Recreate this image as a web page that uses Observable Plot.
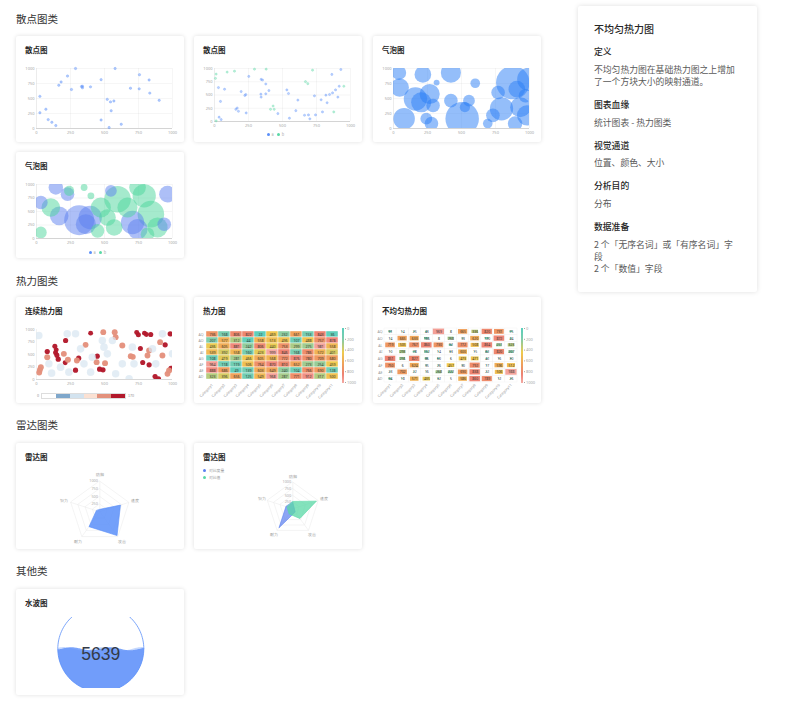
<!DOCTYPE html>
<html><head><meta charset="utf-8">
<script src="https://cdn.jsdelivr.net/npm/d3@7"></script>
<script src="https://cdn.jsdelivr.net/npm/@observablehq/plot@0.6"></script>
<style>
body{margin:0;background:#fff;font-family:"Noto Sans CJK SC","Noto Sans",sans-serif;}
#page{position:relative;width:800px;height:712px;overflow:hidden;background:#fff;}
.sec{position:absolute;left:16px;font-size:10.5px;color:#333;line-height:12px;white-space:nowrap;}
.card{position:absolute;width:168px;height:106px;background:#fff;box-shadow:0 0 4px rgba(0,0,0,0.13);border-radius:2px;}
.ct{position:absolute;left:9px;top:9px;font-size:7.5px;font-weight:600;color:#262626;line-height:10px;white-space:nowrap;}
.card svg{position:absolute;left:0;top:0;overflow:visible;}
.lg{position:absolute;font-size:3.8px;color:#aaa;line-height:5px;white-space:nowrap;display:flex;align-items:center;gap:1.5px;}
.lg i{display:inline-block;width:3px;height:3px;border-radius:50%;}
#panel{position:absolute;left:578px;top:6px;width:179px;height:286px;background:#fff;box-shadow:0 0 5px rgba(0,0,0,0.13);border-radius:2px;}
.p{position:absolute;left:16px;width:146px;white-space:normal;}
.pt{font-size:10px;color:#262626;line-height:12px;font-weight:500;}
.ph{font-size:8.8px;color:#262626;line-height:12px;font-weight:500;}
.pb{font-size:8.8px;color:#595959;line-height:12px;}
</style></head>
<body><div id="page"></div>
<script>
// ---------------- DATA ----------------
const axisTicks = [0, 250, 500, 750, 1000];

const scatter1X = [25,25,69,86,113,142,164,181,228,257,287,331,338,338,397,475,475,520,534,544,549,569,578,623,691,755,757,828,833,902];
const scatter1Y = [536,262,322,148,104,49,721,776,874,650,1000,699,678,705,694,814,142,486,16,443,295,459,1000,71,672,661,896,809,590,470];

const scatter2X = [12,7,29,44,34,49,12,74,93,147,196,223,230,157,167,176,233,252,294,343,353,377,341,343,377,400,380,412,431,439,466,532,544,551,613,598,669,686,662,691,701,721,735,743,784,794,819,828,846,863,868,877,890,907,917,929,951];
const scatter2Y = [894,814,640,379,81,37,12,609,932,950,565,491,509,230,255,193,161,851,988,795,783,708,516,460,522,584,988,230,292,230,149,596,528,62,404,205,752,714,118,124,50,969,484,124,410,180,497,354,509,888,540,180,596,460,665,981,665];
const scatter2G = ["b","b","a","a","a","a","b","a","b","b","a","a","a","a","a","a","a","a","b","a","a","a","a","a","a","a","b","b","b","b","a","a","a","a","a","a","b","b","a","a","a","b","a","a","a","a","a","a","a","a","a","b","a","a","a","a","b"];
const scatterGroups = ["a", "b"];

const bubble1X = [40,45,78,161,204,216,266,241,279,291,317,422,422,525,555,601,505,693,731,769,794,877,907,932,894,995,982,970];
const bubble1Y = [929,683,164,492,437,902,574,164,82,383,765,929,464,355,464,754,164,82,219,601,328,765,656,355,82,820,219,546];
const bubble1Size = [18,30,40,47,35,24,35,12,16,16,3,35,16,9,12,8,97,8,16,16,47,97,24,35,18,47,35,16];

const bubble2X = [142,228,314,395,363,32,547,706,743,963,939,167, 105,32,240,350,400,473,522,596,669,792,841,890,743,571,449,816];
const bubble2Y = [944,821,340,389,265,667,883,296,173,821,265,420, 574,111,883,944,790,574,389,728,574,790,451,204,944,204,142,80];
const bubble2Size = [18,16,78,47,35,16,12,47,35,24,16,30, 30,12,9,4,4,35,24,61,35,47,61,35,24,24,16,16];
const bubble2G = ["a","a","a","a","a","a","a","a","a","a","a","a","b","b","b","b","b","b","b","b","b","b","b","b","b","b","b","b"];

const contX = [398,737,749,794,808,840,79,135,145,140,150,160,214,211,287,447,464,489,764,781,828,872,897,946,988,983,310,
  25,32,20,79,201,361,491,575,582,631,693,708,816,828,909,926,963,975,442,504,231,297,
  17,91,111,238,226,287,324,349,398,410,484,496,558,631,582,705,717,853,877,681,926,1000,521,177];
const contY = [927,940,893,927,900,900,560,667,593,533,487,407,780,333,187,467,207,193,620,340,293,60,13,693,227,913,427,
  193,247,140,447,513,693,947,947,847,680,467,453,480,580,747,480,113,180,347,327,393,380,
  880,313,127,147,913,913,613,313,147,447,780,647,780,313,113,647,313,613,313,13,913,513,513,247];
const contV = [165,160,158,162,160,155,150,158,162,160,156,152,150,160,150,155,150,152,158,155,150,150,152,150,158,150,150,
  120,118,122,115,118,120,122,118,120,115,120,118,122,118,120,118,122,115,120,118,115,118,
  40,45,42,40,38,45,40,42,40,45,40,38,42,40,45,40,42,38,40,45,40,42,40,38];
const contLegendColors = ["#ffffff","#7FA7CB","#D3E3EF","#FBE1D3","#E3917C","#B2182B"];
const contLegendLabels = ["0", "170"];

const heatRows = ["AQ","AO","AL","AI","AG","AF","AE","AD"];
const heatCols = ["Category1","Category2","Category3","Category4","Category5","Category6","Category7","Category8","Category9","Category10","Category11"];
const heatValues = [
  [736,168,806,822,22,469,232,661,153,843,36],
  [207,577,312,44,558,513,496,107,488,757,878],
  [436,605,881,242,806,440,753,299,275,981,558],
  [539,392,558,160,423,999,846,168,786,572,401],
  [108,419,281,466,605,568,772,876,780,709,680],
  [964,118,119,506,764,870,810,652,273,254,459],
  [888,686,49,139,603,649,240,104,766,690,128],
  [323,396,656,125,549,968,287,771,912,317,500]
];
const unevenValues = [
  [91,14,25,43,969,8,665,336,820,731,75],
  [14,665,633,166,8,268,33,620,120,872,44],
  [719,505,767,860,730,92,772,508,864,251,323],
  [10,293,78,152,14,33,600,15,82,820,207],
  [851,256,827,86,60,6,473,471,42,16,30],
  [750,6,624,35,26,457,30,792,17,596,512],
  [23,702,22,16,268,222,690,838,22,506,988],
  [94,18,571,435,32,5,586,860,789,12,26]
];
const heatLegendTicks = [0,200,400,600,800,1000];

const radarAxes = ["防御","速度","攻击","耐力","智力"];
const radarTicks = [250,500,750,1000];
const radar1Values = [80,710,960,600,120];
const radar2Names = ["对比度量","对比值"];
const radar2A = [240,60,150,880,270];
const radar2B = [275,930,450,235,225];

const liquidValue = 5639;
const liquidLevel = 0.5;

// ---------------- LAYOUT HELPERS ----------------
const page = document.getElementById("page");
const BLUE = "#5B8FF9", GREEN = "#5AD8A6";
const fmt = d => String(d);
function el(tag, cls, parent, css, html){const e=document.createElement(tag);if(cls)e.className=cls;if(css)e.style.cssText=css;if(html!=null)e.innerHTML=html;(parent||page).appendChild(e);return e;}
function section(text, y){el("div","sec",page,`top:${y-6}px`,text);}
function card(x, y, title){const c=el("div","card",page,`left:${x}px;top:${y}px`);el("div","ct",c,null,title);return c;}
const axisStyle = {fontSize:"4px", color:"#a6a6a6", background:"transparent", fontFamily:"Noto Sans, sans-serif", overflow:"visible"};
function legendRow(parent, x, y, items){const d=el("div","lg",parent,`left:${x}px;top:${y}px`);items.forEach(([c,t])=>{el("i",null,d,`background:${c}`);el("span",null,d,"margin-right:2px",t);});}

function xyPlot(marks, mb, extra={}) {
  return Plot.plot(Object.assign({
    width:168, height:106, marginLeft:20, marginRight:12, marginTop:32, marginBottom:mb,
    style: axisStyle,
    x:{domain:[0,1000], ticks:axisTicks, tickFormat:fmt, tickSize:0, tickPadding:3, grid:true, label:null},
    y:{domain:[0,1000], ticks:axisTicks, tickFormat:fmt, tickSize:0, tickPadding:2, grid:true, label:null},
    marks:[Plot.ruleX([0],{stroke:"#e3e3e3",strokeWidth:0.5}), Plot.ruleY([0],{stroke:"#bdbdbd",strokeWidth:0.6}), ...marks]
  }, extra));
}

// ---------------- SECTIONS ----------------
section("散点图类", 19);
section("热力图类", 281);
section("雷达图类", 425);
section("其他类", 571);

// Scatter 1
{
  const c = card(16, 36, "散点图");
  const data = scatter1X.map((x,i)=>({x, y:scatter1Y[i]}));
  c.appendChild(xyPlot([Plot.dot(data,{x:"x",y:"y",r:1.2,fill:BLUE,fillOpacity:0.45,stroke:BLUE,strokeOpacity:0.7,strokeWidth:0.4})],14));
}
// Scatter 2
{
  const c = card(194, 36, "散点图");
  const data = scatter2X.map((x,i)=>({x, y:scatter2Y[i], g:scatter2G[i]}));
  c.appendChild(xyPlot([Plot.dot(data,{x:"x",y:"y",r:1.1,fill:"g",fillOpacity:0.4,stroke:"g",strokeOpacity:0.7,strokeWidth:0.4})],21,
    {color:{domain:scatterGroups, range:[BLUE,GREEN]}}));
  legendRow(c, 73, 96, [[BLUE,"a"],[GREEN,"b"]]);
}
// Bubble 1
{
  const c = card(373, 36, "气泡图");
  const data = bubble1X.map((x,i)=>({x, y:bubble1Y[i], s:bubble1Size[i]}));
  c.appendChild(xyPlot([Plot.dot(data,{x:"x",y:"y",r:"s",fill:"#2A7DF5",fillOpacity:0.5,clip:true})],14,
    {r:{domain:[0,100], range:[0,17]}}));
}
// Bubble 2
{
  const c = card(16, 152, "气泡图");
  const data = bubble2X.map((x,i)=>({x, y:bubble2Y[i], s:bubble2Size[i], g:bubble2G[i]}));
  c.appendChild(xyPlot([Plot.dot(data,{x:"x",y:"y",r:"s",fill:"g",fillOpacity:0.5,clip:true})],20,
    {r:{domain:[0,100], range:[0,17]}, color:{domain:scatterGroups, range:["#5B7FF0","#4CD69C"]}}));
  legendRow(c, 73, 98, [[BLUE,"a"],[GREEN,"b"]]);
}

// Continuous heat
{
  const c = card(16, 297, "连续热力图");
  const data = contX.map((x,i)=>({x, y:contY[i], v:contV[i]}));
  c.appendChild(xyPlot([
    Plot.dot(data,{x:"x",y:"y",r:d=>d.v+40,fill:"v",fillOpacity:0.35,clip:true}),
    Plot.dot(data,{x:"x",y:"y",r:"v",fill:"v",fillOpacity:d=>d.v>100?0.95:0.7,clip:true})
  ],24,{
    x:{domain:[0,1000], ticks:axisTicks, tickFormat:fmt, tickSize:0, tickPadding:3, grid:false, label:null},
    y:{domain:[0,1000], ticks:axisTicks, tickFormat:fmt, tickSize:0, tickPadding:2, grid:false, label:null},
    r:{type:"linear", domain:[40,205], range:[3.8,2.0]},
    color:{type:"threshold", domain:[60,100,140], range:["#DCE8F2","#F6D3C5","#E4907C","#B2182B"]}
  }));
  const lg = el("div",null,c,"position:absolute;left:21px;top:96px;display:flex;align-items:center;font-size:3.8px;color:#999;line-height:5px");
  el("span",null,lg,"margin-right:2px",contLegendLabels[0]);
  const bar = el("div",null,lg,"display:flex;height:3.5px;border:0.5px solid #ddd");
  contLegendColors.forEach(col=>el("div",null,bar,`width:13.8px;height:3.5px;background:${col}`));
  el("span",null,lg,"margin-left:2px",contLegendLabels[1]);
}

const heatColor = {type:"linear", domain:[0,200,450,650,850,1000], range:["#5BCFBD","#7ECDAD","#F0CB4E","#F0A45A","#EE8272","#F4A7A0"]};
function heatLegend(c){
  const p = Plot.plot({width:168,height:106,marginLeft:148,marginRight:18,marginTop:31,marginBottom:21,
    style:axisStyle,
    x:{axis:null, domain:[0,1]},
    y:{domain:[0,1000], reverse:true, ticks:heatLegendTicks, tickFormat:fmt, tickSize:1, tickPadding:1.5, label:null, axis:"right"},
    color:heatColor,
    marks:[Plot.ruleY(d3.range(0,1001,4),{y:d=>d,x1:0,x2:1,stroke:d=>d,strokeWidth:0.8})]
  });
  c.appendChild(p);
}
function heatBase(marks, extra){
  return Plot.plot(Object.assign({width:168,height:106,marginLeft:11,marginRight:24,marginTop:31,marginBottom:21,
    style:Object.assign({}, axisStyle, {fontSize:"3.6px", color:"#999"}),
    color:heatColor, marks}, extra));
}
// Heatmap
{
  const c = card(194, 297, "热力图");
  const data = heatRows.flatMap((r,i)=>heatCols.map((col,j)=>({row:r,col,v:heatValues[i][j]})));
  c.appendChild(heatBase([
    Plot.cell(data,{x:"col",y:"row",fill:"v",stroke:"#fff",strokeWidth:0.4}),
    Plot.text(data,{x:"col",y:"row",text:d=>String(d.v),fontSize:3.6,fill:"#333"})
  ],{
    x:{domain:heatCols, padding:0, tickRotate:-45, tickSize:0, tickPadding:2, label:null},
    y:{domain:heatRows, padding:0, tickSize:0, tickPadding:2, label:null}
  }));
  heatLegend(c);
}
// Uneven heatmap
{
  const c = card(373, 297, "不均匀热力图");
  const data = heatRows.flatMap((r,i)=>heatCols.map((col,j)=>({i,j,v:unevenValues[i][j]})));
  const half = d=>0.47*Math.sqrt(d.v/1000);
  c.appendChild(heatBase([
    Plot.rect(data,{x1:d=>d.j,x2:d=>d.j+1,y1:d=>d.i,y2:d=>d.i+1,fill:"#fff",stroke:"#f0f0f0",strokeWidth:0.4}),
    Plot.rect(data,{x1:d=>d.j+0.5-half(d),x2:d=>d.j+0.5+half(d),y1:d=>d.i+0.5-half(d)*0.9,y2:d=>d.i+0.5+half(d)*0.9,fill:"v"}),
    Plot.text(data,{x:d=>d.j+0.5,y:d=>d.i+0.5,text:d=>String(d.v),fontSize:3.4,fill:"#333"})
  ],{
    x:{domain:[0,heatCols.length], ticks:heatCols.map((_,j)=>j+0.5), tickFormat:d=>heatCols[Math.floor(d)], tickRotate:-45, tickSize:0, tickPadding:2, label:null},
    y:{domain:[0,heatRows.length], reverse:true, ticks:heatRows.map((_,i)=>i+0.5), tickFormat:d=>heatRows[Math.floor(d)], tickSize:0, tickPadding:2, label:null}
  }));
  heatLegend(c);
}

// Radar
function radarPlot(c, cx, cy, R, series){
  const n = radarAxes.length;
  const ang = i => i*2*Math.PI/n;
  const grid = radarTicks.flatMap(t=>radarAxes.map((a,i)=>({t, x:t/1000*Math.sin(ang(i)), y:t/1000*Math.cos(ang(i))})));
  const marks = [
    Plot.line(grid,{x:"x",y:"y",z:"t",curve:"linear-closed",stroke:"#e8e8e8",strokeWidth:0.5}),
    Plot.link(radarAxes,{x1:0,y1:0,x2:(d,i)=>Math.sin(ang(i)),y2:(d,i)=>Math.cos(ang(i)),stroke:"#e8e8e8",strokeWidth:0.5}),
    Plot.text(radarAxes,{x:(d,i)=>1.22*Math.sin(ang(i)),y:(d,i)=>1.2*Math.cos(ang(i)),text:d=>d,fontSize:4,fill:"#999"}),
    Plot.text(radarTicks,{x:-0.06,y:d=>d/1000,text:d=>String(d),textAnchor:"end",fontSize:3.8,fill:"#aaa"})
  ];
  series.forEach(s=>{
    const pts = s.values.map((v,i)=>({x:v/1000*Math.sin(ang(i)), y:v/1000*Math.cos(ang(i))}));
    marks.push(Plot.line(pts,{x:"x",y:"y",curve:"linear-closed",fill:s.color,fillOpacity:s.op,stroke:s.color,strokeWidth:0.6}));
  });
  c.appendChild(Plot.plot({width:168,height:106,margin:0,style:axisStyle,
    x:{domain:[-1,1], range:[cx-R,cx+R], axis:null},
    y:{domain:[-1,1], range:[cy+R,cy-R], axis:null},
    marks}));
}
{
  const c = card(16, 443, "雷达图");
  radarPlot(c, 83.3, 68.3, 30.6, [{values:radar1Values, color:BLUE, op:0.85}]);
}
{
  const c = card(194, 443, "雷达图");
  radarPlot(c, 98.3, 65.3, 26.7, [{values:radar2A, color:"#5B7FF0", op:0.7},{values:radar2B, color:GREEN, op:0.75}]);
  const lg = el("div",null,c,"position:absolute;left:9px;top:24px;font-size:3.8px;color:#999;line-height:7px");
  [[ "#5B7FF0", radar2Names[0]],[GREEN, radar2Names[1]]].forEach(([col,t])=>{
    const r = el("div",null,lg,"display:flex;align-items:center;gap:3px");
    el("i",null,r,`display:inline-block;width:3px;height:3px;border-radius:50%;background:${col}`);
    el("span",null,r,null,t);
  });
}

// Liquid
{
  const c = card(16, 589, "水波图");
  const cx = 84.3, cy = 59.3, R = 43, top = 28, bottom = 99;
  const circle = d3.range(0, 361, 3).map(a=>({x:Math.cos(a*Math.PI/180), y:Math.sin(a*Math.PI/180)}));
  const level = -1 + 2*liquidLevel;
  const wave = (phase, amp) => {
    const surf = d3.range(-1, 1.0001, 0.02).map(x=>{
      const lim = Math.sqrt(Math.max(0,1-x*x));
      let y = level + amp*Math.sin(x*Math.PI*2.2 + phase);
      y = Math.max(-lim, Math.min(lim, y));
      return {x, y};
    });
    const arc = d3.range(0, -181, -3).map(a=>({x:Math.cos(a*Math.PI/180), y:Math.sin(a*Math.PI/180)}));
    return surf.concat(arc);
  };
  c.appendChild(Plot.plot({width:168,height:106,marginTop:top,marginBottom:106-bottom,marginLeft:0,marginRight:0,
    style:Object.assign({},axisStyle,{overflow:"hidden"}),
    x:{domain:[-cx/R,(168-cx)/R], axis:null},
    y:{domain:[(cy-bottom)/R,(cy-top)/R], axis:null},
    marks:[
      Plot.line(wave(1.2,0.04),{x:"x",y:"y",curve:"linear-closed",fill:BLUE,fillOpacity:0.35,stroke:"none",clip:true}),
      Plot.line(wave(0,0.035),{x:"x",y:"y",curve:"linear-closed",fill:BLUE,fillOpacity:0.8,stroke:"none",clip:true}),
      Plot.line(circle,{x:"x",y:"y",stroke:BLUE,strokeWidth:0.8,clip:true}),
      Plot.text([liquidValue],{x:0,y:(cy-64.7)/R,text:d=>String(d),fontSize:17.5,fill:"#333a48",fontFamily:"Liberation Sans, Arial, sans-serif"})
    ]}));
}

// Panel
{
  const p = el("div",null,page,null);p.id="panel";
  const items = [
    ["pt", 28.7, "不均匀热力图"],
    ["ph", 51.7, "定义"],
    ["pb", 69.8, "不均匀热力图在基础热力图之上增加了一个方块大小的映射通道。"],
    ["ph", 105.3, "图表血缘"],
    ["pb", 123.3, "统计图表 - 热力图类"],
    ["ph", 145.7, "视觉通道"],
    ["pb", 163.3, "位置、颜色、大小"],
    ["ph", 185.7, "分析目的"],
    ["pb", 204, "分布"],
    ["ph", 226.7, "数据准备"],
    ["pb", 245, "2 个「无序名词」或「有序名词」字段<br>2 个「数值」字段"]
  ];
  items.forEach(([cls, y, t])=>el("div","p "+cls,p,`top:${y-6-6}px`,t));
}
</script></body></html>
